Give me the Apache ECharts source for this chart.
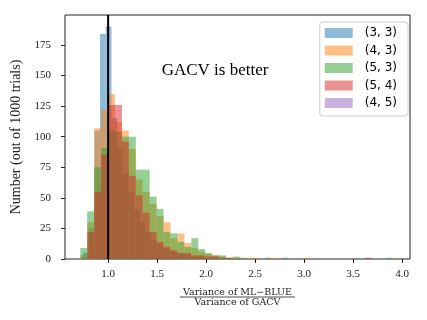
<!DOCTYPE html>
<html>
<head>
<meta charset="utf-8">
<script src="https://cdn.jsdelivr.net/npm/echarts@6/dist/echarts.min.js"></script>
<style>
html, body { margin: 0; padding: 0; background: #fff; }
#chart { width: 427px; height: 320px; }
</style>
</head>
<body>
<div id="chart"></div>
<script>
const seriesNames = ['(3, 3)', '(4, 3)', '(5, 3)', '(5, 4)', '(4, 5)'];

// bin edges (ratio values): blue has its own bins, the others share one grid
const blueBinStart = 0.744;
const blueBinWidth = 0.058;
const binStart = 0.716;
const binWidth = 0.0708;

// counts per bin
const counts33 = [5, 25, 105, 184, 190, 115, 90, 70, 55, 40, 30, 22, 16, 12, 9, 7, 5, 4, 3, 2, 2, 1,
    0, 0, 0, 0, 0, 0, 0, 0, 0, 0, 1, 0, 0, 1];
const counts43 = [3, 30, 107, 122, 135, 112, 105, 90, 65, 55, 45, 35, 30, 17, 21, 13, 9, 6, 4, 3, 2, 1,
    1, 0, 1, 1, 0, 1, 1, 0, 0, 0, 1];
const counts53 = [9, 39, 75, 91, 105, 104, 100, 100, 73, 73, 51, 41, 22, 21, 14, 10, 17, 8, 5, 3, 3, 1,
    2, 1, 0, 0, 0, 0, 0, 0, 0, 0, 0, 0, 0, 0, 0, 0, 0, 0, 0, 0, 0, 0, 1];
const counts54 = [0, 22, 55, 85, 126, 126, 96, 68, 52, 38, 22, 14, 10, 7, 5, 5, 3, 3, 2, 2, 1, 1,
    0, 0, 0, 0, 0, 0, 0, 0, 0, 0, 0, 0, 0, 0, 0, 0, 0, 0, 0, 1];
const counts45 = [];

const xTicks = [1.0, 1.5, 2.0, 2.5, 3.0, 3.5, 4.0];
const yTicks = [0, 25, 50, 75, 100, 125, 150, 175];
const markerX = 1.0;

const colors = [
    'rgba(31,119,180,0.5)',
    'rgba(255,127,14,0.5)',
    'rgba(44,160,44,0.5)',
    'rgba(214,39,40,0.5)',
    'rgba(148,103,189,0.5)'
];

const serif = 'Liberation Serif';

function histSeries(name, start, width, counts, color) {
    const data = [];
    counts.forEach((c, i) => {
        if (c > 0) data.push([start + i * width, start + (i + 1) * width, c]);
    });
    return {
        name: name,
        type: 'custom',
        data: data,
        encode: { x: [0, 1], y: 2 },
        itemStyle: { color: color },
        renderItem: function (params, api) {
            const p0 = api.coord([api.value(0), api.value(2)]);
            const p1 = api.coord([api.value(1), 0]);
            return {
                type: 'rect',
                shape: { x: p0[0], y: p0[1], width: p1[0] - p0[0], height: p1[1] - p0[1] },
                style: { fill: color }
            };
        }
    };
}

const chart = echarts.init(document.getElementById('chart'));

const option = {
    animation: false,
    grid: {
        left: 65, right: 17, top: 15, bottom: 61,
        show: true, borderColor: '#222', borderWidth: 1
    },
    legend: {
        data: seriesNames,
        orient: 'vertical',
        right: 19, top: 22,
        itemWidth: 28, itemHeight: 10, itemGap: 5.5,
        icon: 'rect',
        padding: [5, 11, 7, 5],
        borderColor: '#ccc', borderWidth: 1, borderRadius: 3,
        backgroundColor: 'rgba(255,255,255,0.8)',
        textStyle: { fontFamily: 'DejaVu Sans', fontSize: 12, color: '#000', padding: [0, 0, 0, 7] }
    },
    xAxis: {
        type: 'value',
        min: 0.56, max: 4.08,
        axisLine: { show: false },
        splitLine: { show: false },
        axisTick: { show: true, length: 4, customValues: xTicks, lineStyle: { color: '#222' } },
        axisLabel: {
            customValues: xTicks,
            formatter: v => v.toFixed(1),
            fontFamily: serif, fontSize: 11, color: '#222', margin: 10
        }
    },
    yAxis: {
        type: 'value',
        min: 0, max: 199.5,
        axisLine: { show: false },
        splitLine: { show: false },
        axisTick: { show: true, length: 4, customValues: yTicks, lineStyle: { color: '#222' } },
        axisLabel: {
            customValues: yTicks,
            fontFamily: serif, fontSize: 11, color: '#222', margin: 14
        },
        name: 'Number (out of 1000 trials)',
        nameLocation: 'middle',
        nameRotate: 90,
        nameGap: 40,
        nameTextStyle: { fontFamily: serif, fontSize: 14, color: '#222' }
    },
    graphic: [
        {
            type: 'text', x: 215, y: 70.5,
            style: {
                text: 'GACV is better', fill: '#000',
                font: '17px "Liberation Serif"',
                align: 'center', verticalAlign: 'middle'
            }
        },
        {
            type: 'text', x: 237.5, y: 292.5,
            style: {
                text: 'Variance of ML\u2212BLUE', fill: '#222',
                font: '9.5px "DejaVu Serif"',
                align: 'center', verticalAlign: 'middle'
            }
        },
        {
            type: 'line',
            shape: { x1: 180, y1: 297, x2: 295, y2: 297 },
            style: { stroke: '#222', lineWidth: 0.8 }
        },
        {
            type: 'text', x: 237.5, y: 302.5,
            style: {
                text: 'Variance of GACV', fill: '#222',
                font: '9.5px "DejaVu Serif"',
                align: 'center', verticalAlign: 'middle'
            }
        }
    ],
    series: [
        histSeries(seriesNames[0], blueBinStart, blueBinWidth, counts33, colors[0]),
        histSeries(seriesNames[1], binStart, binWidth, counts43, colors[1]),
        histSeries(seriesNames[2], binStart, binWidth, counts53, colors[2]),
        histSeries(seriesNames[3], binStart, binWidth, counts54, colors[3]),
        histSeries(seriesNames[4], binStart, binWidth, counts45, colors[4]),
        {
            type: 'line',
            data: [[markerX, 0], [markerX, 199.5]],
            symbol: 'none',
            lineStyle: { color: '#000', width: 2 },
            z: 10,
            silent: true
        }
    ]
};

chart.setOption(option);
</script>
</body>
</html>
